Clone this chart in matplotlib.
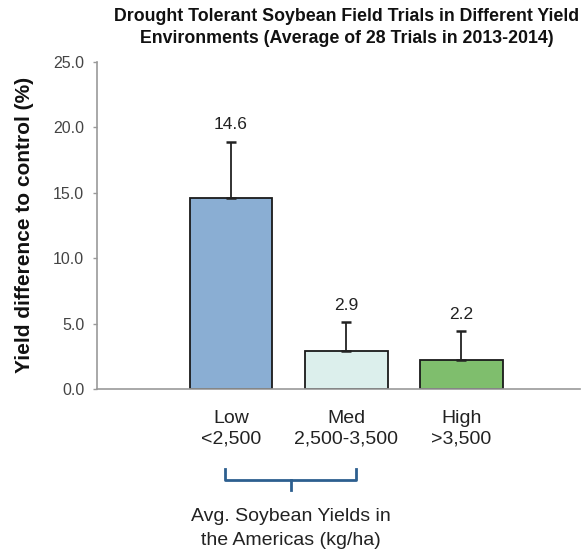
import matplotlib.pyplot as plt
import numpy as np

plt.rcParams['font.family'] = ['Liberation Sans', 'DejaVu Sans']

# data
categories = ["Low\n<2,500", "Med\n2,500-3,500", "High\n>3,500"]
values = [14.6, 2.9, 2.2]
errors = [4.3, 2.2, 2.2]
colors = ["#8aaed3", "#dcefec", "#7fbe6d"]

fig = plt.figure(figsize=(5.83, 5.51), dpi=100)
ax = fig.add_axes([0.166, 0.294, 0.829, 0.594])

x = np.arange(len(categories))
ax.bar(x, values, width=0.72, color=colors, edgecolor="#1a1a1a", linewidth=1.3, zorder=2)
ax.errorbar(x, values, yerr=[np.zeros(3), errors], fmt="none", ecolor="#222222",
            elinewidth=1.3, capsize=3.3, capthick=1.8, zorder=3)

for xi, v, e in zip(x, values, errors):
    ax.annotate(f"{v:.1f}", (xi, v + e), xytext=(0, 7), textcoords="offset points",
                ha="center", va="bottom", fontsize=12.5, color="#222222")

ax.set_xlim(-1.165, 3.03)
ax.set_ylim(0, 25)
ax.set_yticks(np.arange(0, 26, 5))
ax.set_yticklabels([f"{t:.1f}" for t in np.arange(0, 26, 5)])
ax.tick_params(axis="y", labelsize=11.5, colors="#999999", labelcolor="#444444",
               length=3, width=1, pad=6)
ax.tick_params(axis="x", length=0, labelsize=14, labelcolor="#222222", pad=15)
ax.set_xticks(x)
ax.set_xticklabels(categories, linespacing=1.25)

for s in ["top", "right"]:
    ax.spines[s].set_visible(False)
for s in ["left", "bottom"]:
    ax.spines[s].set_color("#999999")
    ax.spines[s].set_linewidth(1.2)

ax.set_ylabel("Yield difference to control (%)", fontsize=15, fontweight="bold",
              color="#111111", labelpad=14)

fig.text(0.595, 0.985, "Drought Tolerant Soybean Field Trials in Different Yield\n"
         "Environments (Average of 28 Trials in 2013-2014)",
         ha="center", va="top", fontsize=12.8, fontweight="bold", color="#111111",
         linespacing=1.4)

# bracket under the Low and Med labels
bx0, bx1 = 225 / 583, 356 / 583
by_top, by_bot, by_stem = 1 - 469 / 551, 1 - 480 / 551, 1 - 490 / 551
bmid = (bx0 + bx1) / 2
fig.add_artist(plt.Line2D([bx0, bx0, bx1, bx1], [by_top, by_bot, by_bot, by_top],
                          color="#2d5f8f", linewidth=2))
fig.add_artist(plt.Line2D([bmid, bmid], [by_bot, by_stem], color="#2d5f8f", linewidth=2))

fig.text(bmid, 1 - 508 / 551, "Avg. Soybean Yields in\nthe Americas (kg/ha)",
         ha="center", va="top", fontsize=14, color="#222222", linespacing=1.55)

fig.savefig("out.png", dpi=100)
